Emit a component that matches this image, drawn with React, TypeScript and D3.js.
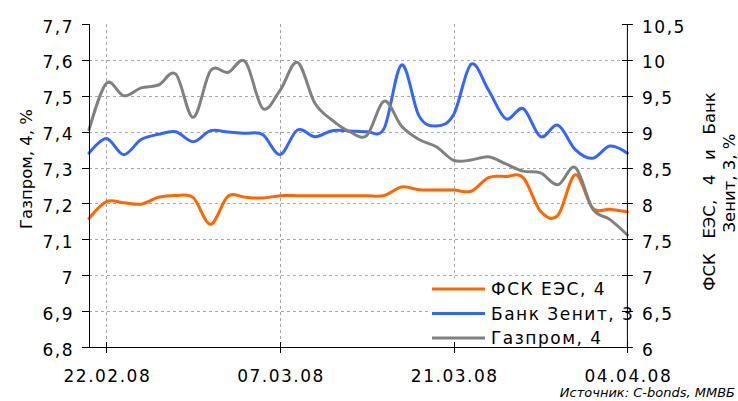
import React from 'react';
import * as d3 from 'd3';

const categories = [
  '21.02.08', '22.02.08', '25.02.08', '26.02.08', '27.02.08', '28.02.08', '29.02.08',
  '03.03.08', '04.03.08', '05.03.08', '06.03.08', '07.03.08',
  '10.03.08', '11.03.08', '12.03.08', '13.03.08', '14.03.08',
  '17.03.08', '18.03.08', '19.03.08', '20.03.08', '21.03.08',
  '24.03.08', '25.03.08', '26.03.08', '27.03.08', '28.03.08',
  '31.03.08', '01.04.08', '02.04.08', '03.04.08', '04.04.08',
];
const xTickLabels = ['22.02.08', '07.03.08', '21.03.08', '04.04.08'];

// right axis
const fskValues = [
  7.79, 8.025, 8.01, 7.99, 8.086, 8.11, 8.08, 7.71, 8.1, 8.085, 8.075, 8.108,
  8.108, 8.108, 8.108, 8.108, 8.108, 8.11, 8.23, 8.19, 8.187, 8.187,
  8.17, 8.36, 8.375, 8.36, 7.89, 7.835, 8.4, 7.935, 7.92, 7.885,
];
const zenitValues = [
  8.7, 8.905, 8.68, 8.89, 8.963, 9.0, 8.86, 9.014, 8.995, 8.977, 8.96, 8.68,
  9.023, 8.93, 9.014, 9.01, 9.0, 9.05, 9.93, 9.22, 9.08, 9.24,
  9.94, 9.58, 9.18, 9.32, 8.93, 9.09, 8.75, 8.63, 8.8, 8.7,
];
// left axis
const gazpromValues = [
  7.405, 7.535, 7.5, 7.522, 7.53, 7.56, 7.44, 7.57, 7.565, 7.595, 7.465, 7.515,
  7.593, 7.48, 7.432, 7.4, 7.39, 7.485, 7.415, 7.378, 7.358, 7.32,
  7.321, 7.33, 7.31, 7.29, 7.285, 7.252, 7.3, 7.185, 7.155, 7.112,
];

const leftTicks = [6.8, 6.9, 7.0, 7.1, 7.2, 7.3, 7.4, 7.5, 7.6, 7.7];
const rightTicks = [6, 6.5, 7, 7.5, 8, 8.5, 9, 9.5, 10, 10.5];

const seriesNames = ['ФСК ЕЭС, 4', 'Банк Зенит, 3', 'Газпром, 4'];
const seriesColors = ['#FF6600', '#3366FF', '#808080'];

const FONT = '"DejaVu Sans", Verdana, sans-serif';

const fmt = (v: number) => {
  const s = Number.isInteger(v) ? String(v) : v.toFixed(1);
  return s.replace('.', ',');
};

export default function App() {
  const W = 738;
  const H = 401;
  const left = 89;
  const right = 627.4;
  const top = 24;
  const bottom = 347;

  const x = d3.scalePoint<string>().domain(categories).range([left, right]);
  const yL = d3.scaleLinear().domain([6.8, 7.7]).range([bottom, top]);
  const yR = d3.scaleLinear().domain([6, 10.5]).range([bottom, top]);

  const curve = d3.curveCardinal.tension(0);
  const lineL = d3
    .line<number>()
    .x((_, i) => x(categories[i]) as number)
    .y((d) => yL(d))
    .curve(curve);
  const lineR = d3
    .line<number>()
    .x((_, i) => x(categories[i]) as number)
    .y((d) => yR(d))
    .curve(curve);

  const series = [
    { name: seriesNames[0], color: seriesColors[0], d: lineR(fskValues) },
    { name: seriesNames[1], color: seriesColors[1], d: lineR(zenitValues) },
    { name: seriesNames[2], color: seriesColors[2], d: lineL(gazpromValues) },
  ];

  const tickStyle = { fontFamily: FONT, fontSize: 17, letterSpacing: 1.5, fill: '#000' } as const;
  const gridColor = '#a6a6a6';

  return (
    <svg
      width={W}
      height={H}
      style={{ position: 'absolute', left: 0, top: 0, background: '#fff' }}
    >
      <rect x={0} y={0} width={W} height={H} fill="#fff" />
      {/* horizontal grid */}
      {leftTicks
        .filter((t) => t > 6.8 && t < 7.7)
        .map((t) => (
          <line
            key={'hg' + t}
            x1={left}
            x2={right}
            y1={Math.round(yL(t)) + 0.5}
            y2={Math.round(yL(t)) + 0.5}
            stroke={gridColor}
            strokeWidth={1}
            strokeDasharray="3,3"
          />
        ))}
      {/* vertical grid */}
      {xTickLabels.slice(0, 3).map((c) => (
        <line
          key={'vg' + c}
          x1={Math.round(x(c) as number) + 0.5}
          x2={Math.round(x(c) as number) + 0.5}
          y1={top}
          y2={bottom}
          stroke={gridColor}
          strokeWidth={1}
          strokeDasharray="3,3"
        />
      ))}

      {/* series */}
      {series.map((s) => (
        <path
          key={s.name}
          d={s.d || ''}
          fill="none"
          stroke={s.color}
          strokeWidth={3}
          strokeLinejoin="round"
          strokeLinecap="round"
        />
      ))}

      {/* legend */}
      <rect x={428} y={278} width={199} height={68} fill="#fff" />
      {series.map((s, i) => (
        <g key={'lg' + s.name} transform={`translate(0, ${289 + i * 24.5})`}>
          <line x1={432} x2={485} y1={0} y2={0} stroke={s.color} strokeWidth={3} />
          <text x={491} y={6} style={tickStyle}>
            {s.name}
          </text>
        </g>
      ))}

      {/* axes */}
      <line x1={left + 0.5} x2={left + 0.5} y1={top} y2={bottom} stroke="#000" />
      <line x1={right} x2={right} y1={top} y2={bottom} stroke="#000" />
      <line x1={left} x2={right} y1={bottom + 0.5} y2={bottom + 0.5} stroke="#000" />

      {/* left ticks */}
      {leftTicks.map((t) => (
        <g key={'lt' + t}>
          <line
            x1={left - 7}
            x2={left}
            y1={Math.round(yL(t)) + 0.5}
            y2={Math.round(yL(t)) + 0.5}
            stroke="#000"
          />
          <text x={74} y={yL(t) + 8.5} textAnchor="end" style={tickStyle}>
            {fmt(t)}
          </text>
        </g>
      ))}

      {/* right ticks */}
      {rightTicks.map((t) => (
        <g key={'rt' + t}>
          <line
            x1={right - 5.5}
            x2={right + 5.5}
            y1={Math.round(yR(t)) + 0.5}
            y2={Math.round(yR(t)) + 0.5}
            stroke="#000"
          />
          <text x={642} y={yR(t) + 8.5} textAnchor="start" style={tickStyle}>
            {fmt(t)}
          </text>
        </g>
      ))}

      {/* x ticks */}
      {xTickLabels.map((c) => (
        <g key={'xt' + c}>
          <line
            x1={Math.round(x(c) as number) + 0.5}
            x2={Math.round(x(c) as number) + 0.5}
            y1={bottom - 5}
            y2={bottom + 6}
            stroke="#000"
          />
          <text x={(x(c) as number) + 1} y={382} textAnchor="middle" style={tickStyle}>
            {c}
          </text>
        </g>
      ))}

      {/* axis titles */}
      <text
        transform="translate(32, 169) rotate(-90)"
        textAnchor="middle"
        style={{ fontFamily: FONT, fontSize: 16.5, fill: '#000' }}
      >
        Газпром, 4, %
      </text>
      <text
        transform="translate(715, 191.5) rotate(-90)"
        textAnchor="middle"
        style={{ fontFamily: FONT, fontSize: 16.5, fill: '#000', wordSpacing: 9.5 }}
      >
        ФСК ЕЭС, 4 и Банк
      </text>
      <text
        transform="translate(735, 183) rotate(-90)"
        textAnchor="middle"
        style={{ fontFamily: FONT, fontSize: 16.5, fill: '#000' }}
      >
        Зенит, 3, %
      </text>

      {/* source */}
      <text
        x={735}
        y={397}
        textAnchor="end"
        style={{ fontFamily: FONT, fontSize: 13, fontStyle: 'italic', fill: '#000' }}
      >
        Источник: C-bonds, ММВБ
      </text>
    </svg>
  );
}
